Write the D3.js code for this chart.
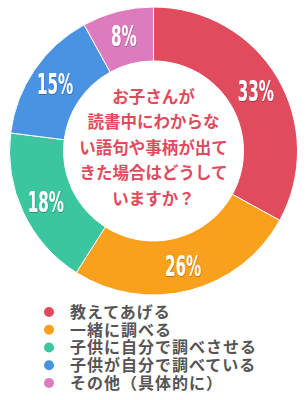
<!DOCTYPE html>
<html>
<head>
<meta charset="utf-8">
<title>お子さんが読書中にわからない語句や事柄が出てきた場合</title>
<script src="https://d3js.org/d3.v7.min.js"></script>
<style>
  body { margin: 0; background: #fff; }
  svg { display: block; }
</style>
</head>
<body>
<svg id="chart" width="307" height="400"></svg>
<script>
// data
var categories = ["教えてあげる", "一緒に調べる", "子供に自分で調べさせる", "子供が自分で調べている", "その他（具体的に）"];
var values = [33, 26, 18, 15, 8];
var colors = ["#e04b5d", "#f9a01c", "#3cc6a0", "#4a92e2", "#dc7bbd"];
var titleLines = ["お子さんが", "読書中にわからな", "い語句や事柄が出て", "きた場合はどうして", "いますか？"];

var cx = 153.5, cy = 151;
var outerR = 144, innerR = 90, labelR = 119;

var svg = d3.select("#chart");

var pie = d3.pie().sort(null).value(function(d) { return d; });
var arc = d3.arc().innerRadius(innerR).outerRadius(outerR);
var labelArc = d3.arc().innerRadius(labelR).outerRadius(labelR);

var g = svg.append("g").attr("transform", "translate(" + cx + "," + cy + ")");

var slices = pie(values);

g.selectAll("path")
  .data(slices)
  .enter().append("path")
  .attr("d", arc)
  .attr("fill", function(d, i) { return colors[i]; })
  .attr("stroke", "#fff")
  .attr("stroke-width", 1);

// percent labels
var defs = svg.append("defs");
var f = defs.append("filter").attr("id", "shadow").attr("x", "-20%").attr("y", "-20%").attr("width", "140%").attr("height", "140%");
f.append("feDropShadow").attr("dx", 0.6).attr("dy", 0.8).attr("stdDeviation", 0.6)
  .attr("flood-color", "#000").attr("flood-opacity", 0.35);

g.selectAll("g.lbl")
  .data(slices)
  .enter().append("g")
  .attr("class", "lbl")
  .attr("transform", function(d) {
    var c = labelArc.centroid(d);
    return "translate(" + c[0] + "," + c[1] + ") scale(0.6,1)";
  })
  .append("text")
  .attr("text-anchor", "middle")
  .attr("dy", "0.36em")
  .attr("fill", "#fff")
  .attr("filter", "url(#shadow)")
  .style("font-family", "'DejaVu Sans Condensed', 'DejaVu Sans', sans-serif")
  .style("font-weight", "bold")
  .style("font-size", "28px")
  .text(function(d) { return d.data + "%"; });

// centre title
var lineY = d3.scaleLinear().domain([0, titleLines.length - 1]).range([97, 199]);

svg.append("g").selectAll("text")
  .data(titleLines)
  .enter().append("text")
  .attr("x", cx)
  .attr("y", function(d, i) { return lineY(i); })
  .attr("dy", "0.36em")
  .attr("text-anchor", "middle")
  .attr("fill", "#e04b5d")
  .style("font-family", "'Noto Sans CJK JP', sans-serif")
  .style("font-weight", "bold")
  .style("font-size", "16.5px")
  .text(function(d) { return d; });

// legend
var legY = d3.scaleLinear().domain([0, categories.length - 1]).range([312, 383]);

var leg = svg.append("g").selectAll("g")
  .data(categories)
  .enter().append("g")
  .attr("transform", function(d, i) { return "translate(0," + legY(i) + ")"; });

leg.append("circle")
  .attr("cx", 49)
  .attr("cy", 0)
  .attr("r", 5)
  .attr("fill", function(d, i) { return colors[i]; });

leg.append("text")
  .attr("x", 70)
  .attr("dy", "0.36em")
  .attr("fill", "#555")
  .style("font-family", "'Noto Sans CJK JP', sans-serif")
  .style("font-weight", "bold")
  .style("font-size", "16px")
  .style("letter-spacing", "1px")
  .text(function(d) { return d; });
</script>
</body>
</html>
